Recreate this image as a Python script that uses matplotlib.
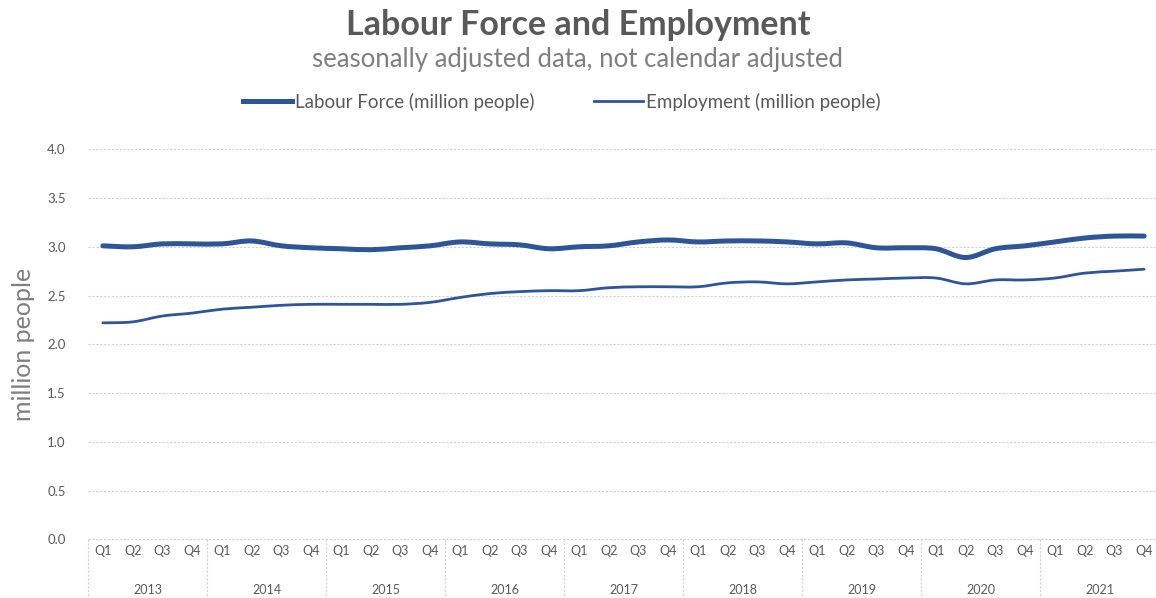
import matplotlib
matplotlib.use("Agg")
import matplotlib.pyplot as plt
from matplotlib.path import Path
from matplotlib.patches import PathPatch
from matplotlib.lines import Line2D
import matplotlib.transforms as mtransforms

years = ["2013", "2014", "2015", "2016", "2017", "2018", "2019", "2020", "2021"]
quarters = ["Q1", "Q2", "Q3", "Q4"]

# million people, one value per quarter, Q1 2013 .. Q4 2021
labour_force = [3.01, 3.00, 3.03, 3.03, 3.03, 3.06, 3.01, 2.99, 2.98,
                2.97, 2.99, 3.01, 3.05, 3.03, 3.02, 2.98, 3.00, 3.01,
                3.05, 3.07, 3.05, 3.06, 3.06, 3.05, 3.03, 3.04, 2.99,
                2.99, 2.98, 2.89, 2.98, 3.01, 3.05, 3.09, 3.11, 3.11]
employment = [2.22, 2.23, 2.29, 2.32, 2.36, 2.38, 2.40, 2.41, 2.41,
              2.41, 2.41, 2.43, 2.48, 2.52, 2.54, 2.55, 2.55, 2.58,
              2.59, 2.59, 2.59, 2.63, 2.64, 2.62, 2.64, 2.66, 2.67,
              2.68, 2.68, 2.62, 2.66, 2.66, 2.68, 2.73, 2.75, 2.77]

yticks = [0.0, 0.5, 1.0, 1.5, 2.0, 2.5, 3.0, 3.5, 4.0]

BLUE = "#2E5597"
GREY = "#595959"
GRID = "#D0D0D0"

plt.rcParams["font.family"] = ["Lato", "DejaVu Sans"]


def smooth_path(ys):
    # excel-like smoothed line: cubic bezier through each point
    pts = list(enumerate(ys))
    n = len(pts)
    verts = [pts[0]]
    codes = [Path.MOVETO]
    for i in range(n - 1):
        p0 = pts[i - 1] if i > 0 else pts[i]
        p1 = pts[i]
        p2 = pts[i + 1]
        p3 = pts[i + 2] if i + 2 < n else pts[i + 1]
        c1 = (p1[0] + (p2[0] - p0[0]) / 6.0, p1[1] + (p2[1] - p0[1]) / 6.0)
        c2 = (p2[0] - (p3[0] - p1[0]) / 6.0, p2[1] - (p3[1] - p1[1]) / 6.0)
        verts += [c1, c2, p2]
        codes += [Path.CURVE4, Path.CURVE4, Path.CURVE4]
    return Path(verts, codes)


fig = plt.figure(figsize=(11.56, 5.98), dpi=100)
W, H = 1156.0, 598.0
left, right, top, bottom = 88, 1159, 149.3, 539.3
ax = fig.add_axes([left / W, 1 - bottom / H, (right - left) / W, (bottom - top) / H])

n = len(labour_force)
ax.set_xlim(-0.5, n - 0.5)
ax.set_ylim(0, 4.0)

ax.add_patch(PathPatch(smooth_path(labour_force), fill=False, edgecolor=BLUE,
                       lw=3.6, capstyle="round", zorder=3))
ax.add_patch(PathPatch(smooth_path(employment), fill=False, edgecolor=BLUE,
                       lw=2.0, capstyle="round", zorder=3))

ax.set_yticks(yticks)
ax.set_yticklabels(["{:.1f}".format(v) for v in yticks])
ax.tick_params(axis="y", length=0, pad=16, labelsize=9.5, labelcolor=GREY)
ax.yaxis.grid(True, color=GRID, linestyle=(0, (2, 1.5)), lw=0.8)
ax.set_axisbelow(True)
for s in ["left", "right", "top", "bottom"]:
    ax.spines[s].set_visible(False)

ax.set_xticks([])

# two level category axis
trans = mtransforms.blended_transform_factory(ax.transData, ax.transAxes)
depth = (H - bottom) / (bottom - top)
ax.plot([-0.5, n - 0.5], [0, 0], transform=trans, color=GRID,
        ls=(0, (2, 1.5)), lw=0.8, clip_on=False)
for k in range(len(years) + 1):
    x = k * 4 - 0.5
    ax.plot([x, x], [0, -depth], transform=trans, color=GRID,
            ls=(0, (2, 1.5)), lw=0.8, clip_on=False)
for i in range(n):
    ax.text(i, -12 / (bottom - top), quarters[i % 4], transform=trans,
            ha="center", va="center", fontsize=9, color=GREY)
for k, yr in enumerate(years):
    ax.text(k * 4 + 1.5, -51 / (bottom - top), yr, transform=trans,
            ha="center", va="center", fontsize=9, color=GREY)

ax.set_ylabel("million people", fontsize=18, color="#7F7F7F", labelpad=9)

fig.text(0.5, 1 - 25 / H, "Labour Force and Employment", ha="center",
         va="center", fontsize=24.5, fontweight="bold", color=GREY)
fig.text(0.5, 1 - 60 / H, "seasonally adjusted data, not calendar adjusted",
         ha="center", va="center", fontsize=18.5, color="#7F7F7F")

handles = [Line2D([], [], color=BLUE, lw=3.6),
           Line2D([], [], color=BLUE, lw=2.0)]
fig.legend(handles, ["Labour Force (million people)", "Employment (million people)"],
           loc="center", bbox_to_anchor=(562 / W, 1 - 102 / H), ncol=2,
           frameon=False, fontsize=13.5, handlelength=2.6, handletextpad=0.15,
           columnspacing=3.2, labelcolor=GREY)

fig.savefig("out.png", dpi=100)
